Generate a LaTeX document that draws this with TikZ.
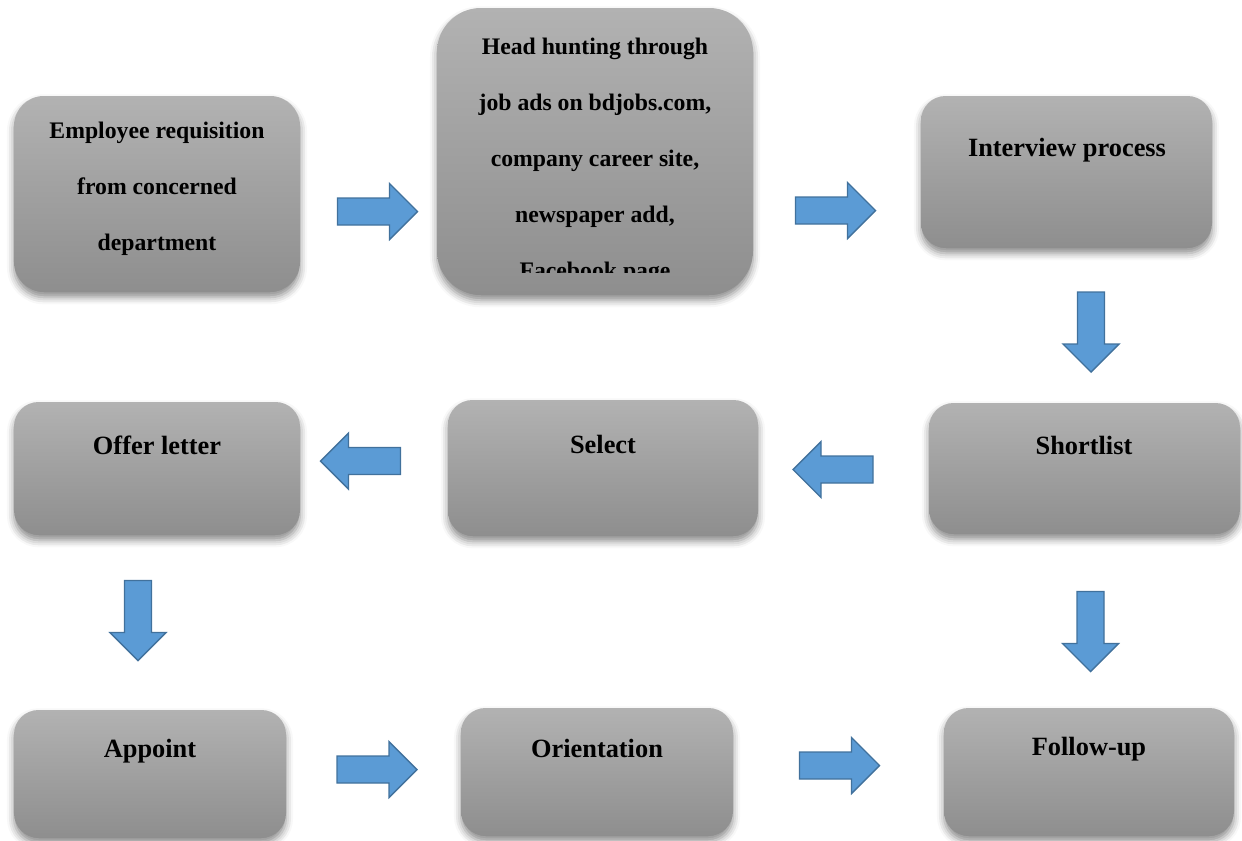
\documentclass[tikz,border=0pt]{standalone}
\usepackage{fontspec}
\setmainfont{Liberation Serif}
\usepackage{tikz}
\usetikzlibrary{shapes,arrows,positioning,calc,shadows.blur}
\definecolor{boxtop}{RGB}{178,178,178}
\definecolor{boxbottom}{RGB}{142,142,142}
\definecolor{arrowfill}{RGB}{91,155,213}
\definecolor{arrowline}{RGB}{65,113,156}

\tikzset{
  stepbox/.style={rectangle, rounded corners=10pt, top color=boxtop, bottom color=boxbottom,
    draw=none, blur shadow={shadow xshift=0pt, shadow yshift=-3pt, shadow blur radius=4pt, shadow opacity=45}},
  boxtext/.style={font=\fontsize{13.5}{31.9}\selectfont\bfseries, align=center, inner sep=0pt},
  boxlabel/.style={font=\fontsize{15}{18}\selectfont\bfseries, align=center, inner sep=0pt},
  pics/blockarr/.style={code={
    \draw[fill=arrowfill, draw=arrowline, line width=0.8pt, line join=miter]
      (-0.8,-0.27) -- (0.24,-0.27) -- (0.24,-0.56) -- (0.8,0) -- (0.24,0.56) -- (0.24,0.27) -- (-0.8,0.27) -- cycle;
  }}
}

\begin{document}
\begin{tikzpicture}
\useasboundingbox (0,0) rectangle (24.84,-16.82);

% boxes
\node[stepbox, rounded corners=17pt, minimum width=5.72cm, minimum height=3.92cm] (req) at (3.14,-3.88) {};
\node[stepbox, rounded corners=25pt, minimum width=6.32cm, minimum height=5.74cm] (hunt) at (11.90,-3.03) {};
\node[stepbox, rounded corners=14pt, minimum width=5.82cm, minimum height=3.04cm] (intv) at (21.33,-3.44) {};
\node[stepbox, rounded corners=14pt, minimum width=6.22cm, minimum height=2.62cm] (short) at (21.69,-9.37) {};
\node[stepbox, rounded corners=14pt, minimum width=6.20cm, minimum height=2.72cm] (sel) at (12.06,-9.36) {};
\node[stepbox, rounded corners=14pt, minimum width=5.72cm, minimum height=2.66cm] (offer) at (3.14,-9.37) {};
\node[stepbox, rounded corners=14pt, minimum width=5.44cm, minimum height=2.56cm] (appt) at (3.00,-15.48) {};
\node[stepbox, rounded corners=14pt, minimum width=5.44cm, minimum height=2.56cm] (orient) at (11.94,-15.44) {};
\node[stepbox, rounded corners=14pt, minimum width=5.80cm, minimum height=2.56cm] (follow) at (21.78,-15.44) {};

% texts
\node[boxtext] (reqtxt) at (3.14,-3.78) {Employee requisition\\from concerned\\department};
\begin{scope}
  \clip (8,0) rectangle (16,-5.44);
  \node[boxtext] (hunttxt) at (11.90,-3.22) {Head hunting through\\job ads on bdjobs.com,\\company career site,\\newspaper add,\\Facebook page};
\end{scope}
\node[boxlabel] (intvtxt) at (21.34,-3.00) {Interview process};
\node[boxlabel] (shorttxt) at (21.68,-8.90) {Shortlist};
\node[boxlabel] (seltxt) at (12.06,-8.88) {Select};
\node[boxlabel] (offertxt) at (3.14,-8.90) {Offer letter};
\node[boxlabel] (appttxt) at (3.00,-15.02) {Appoint};
\node[boxlabel] (orienttxt) at (11.94,-14.96) {Orientation};
\node[boxlabel] (followtxt) at (21.78,-14.98) {Follow-up};

% block arrows
\pic at (7.55,-4.23) {blockarr};
\pic at (16.71,-4.21) {blockarr};
\pic[rotate=-90] at (21.82,-6.64) {blockarr};
\pic[rotate=180] at (16.66,-9.39) {blockarr};
\pic[rotate=180] at (7.21,-9.22) {blockarr};
\pic[rotate=-90] at (2.76,-12.41) {blockarr};
\pic[rotate=-90] at (21.81,-12.63) {blockarr};
\pic at (7.54,-15.39) {blockarr};
\pic at (16.79,-15.31) {blockarr};
\end{tikzpicture}
\end{document}
